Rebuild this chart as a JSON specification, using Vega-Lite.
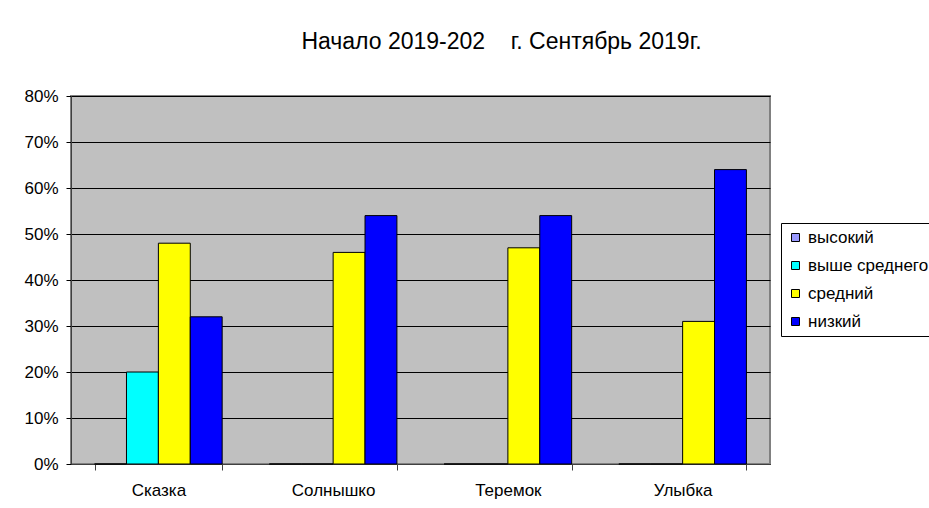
{
  "$schema": "https://vega.github.io/schema/vega-lite/v6.json",
  "width": 699,
  "height": 368,
  "autosize": {"type": "none"},
  "padding": {"left": 71, "top": 96, "right": 159, "bottom": 44},
  "background": "white",
  "title": {
    "text": "Начало 2019-202\u00a0\u00a0\u00a0 г. Сентябрь 2019г.",
    "font": "Liberation Sans",
    "fontSize": 23,
    "fontWeight": "normal",
    "color": "black",
    "anchor": "middle",
    "dx": 81,
    "offset": 33
  },
  "data": {
    "values": [
      {"group": "Сказка", "level": "высокий", "value": 0},
      {"group": "Сказка", "level": "выше среднего", "value": 0.2},
      {"group": "Сказка", "level": "средний", "value": 0.48},
      {"group": "Сказка", "level": "низкий", "value": 0.32},
      {"group": "Солнышко", "level": "высокий", "value": 0},
      {"group": "Солнышко", "level": "выше среднего", "value": 0},
      {"group": "Солнышко", "level": "средний", "value": 0.46},
      {"group": "Солнышко", "level": "низкий", "value": 0.54},
      {"group": "Теремок", "level": "высокий", "value": 0},
      {"group": "Теремок", "level": "выше среднего", "value": 0},
      {"group": "Теремок", "level": "средний", "value": 0.47},
      {"group": "Теремок", "level": "низкий", "value": 0.54},
      {"group": "Улыбка", "level": "высокий", "value": 0},
      {"group": "Улыбка", "level": "выше среднего", "value": 0},
      {"group": "Улыбка", "level": "средний", "value": 0.31},
      {"group": "Улыбка", "level": "низкий", "value": 0.64}
    ]
  },
  "mark": {"type": "bar", "stroke": "black", "strokeWidth": 1},
  "encoding": {
    "x": {
      "field": "group",
      "type": "nominal",
      "sort": ["Сказка", "Солнышко", "Теремок", "Улыбка"],
      "scale": {"paddingInner": 0.27, "paddingOuter": 0.135},
      "axis": {
        "title": null,
        "labelAngle": 0,
        "labelFont": "Liberation Sans",
        "labelFontSize": 17,
        "labelColor": "black",
        "labelPadding": 12,
        "tickBand": "extent",
        "tickSize": 6,
        "tickColor": "#404040",
        "domainColor": "#404040",
        "grid": false
      }
    },
    "xOffset": {
      "field": "level",
      "type": "nominal",
      "sort": ["высокий", "выше среднего", "средний", "низкий"]
    },
    "y": {
      "field": "value",
      "type": "quantitative",
      "scale": {"domain": [0, 0.8], "nice": false},
      "axis": {
        "title": null,
        "format": ".0%",
        "values": [0, 0.1, 0.2, 0.3, 0.4, 0.5, 0.6, 0.7, 0.8],
        "labelFont": "Liberation Sans",
        "labelFontSize": 17,
        "labelColor": "black",
        "labelPadding": 8,
        "tickSize": 5,
        "tickColor": "black",
        "domainColor": "#404040",
        "grid": true,
        "gridColor": "black",
        "gridWidth": 1,
        "gridOpacity": 1
      }
    },
    "color": {
      "field": "level",
      "type": "nominal",
      "sort": ["высокий", "выше среднего", "средний", "низкий"],
      "scale": {
        "domain": ["высокий", "выше среднего", "средний", "низкий"],
        "range": ["#9999ff", "#00ffff", "#ffff00", "#0000ff"]
      },
      "legend": {
        "title": null,
        "orient": "none",
        "legendX": 710,
        "legendY": 127,
        "symbolType": "square",
        "symbolSize": 64,
        "symbolStrokeColor": "black",
        "symbolStrokeWidth": 1,
        "symbolOpacity": 1,
        "labelFont": "Liberation Sans",
        "labelFontSize": 17,
        "labelColor": "black",
        "labelOffset": 4,
        "rowPadding": 10,
        "padding": 6,
        "strokeColor": "black",
        "fillColor": "white",
        "labelLimit": 300
      }
    }
  },
  "config": {
    "view": {"fill": "#c0c0c0", "stroke": "#808080", "strokeWidth": 2}
  }
}
